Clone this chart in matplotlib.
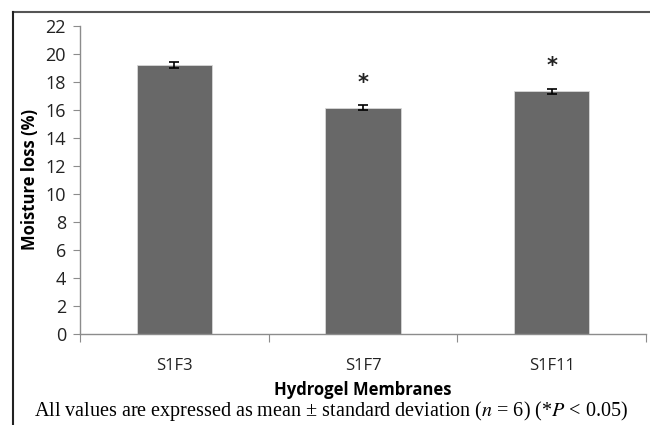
import matplotlib
matplotlib.use("Agg")
import matplotlib.pyplot as plt
from matplotlib.lines import Line2D

# Data
membranes = ["S1F3", "S1F7", "S1F11"]
moisture_loss = [19.22, 16.17, 17.35]
std_dev = [0.20, 0.18, 0.18]
significant = [False, True, True]
y_ticks = list(range(0, 23, 2))

bar_color = "#686868"
axis_color = "#8c8c8c"

plt.rcParams["mathtext.fontset"] = "stix"

fig = plt.figure(figsize=(6.5, 4.25), dpi=100)
ax = fig.add_axes([80 / 650, 1 - 334 / 425, 566 / 650, (334 - 26) / 425])

x = list(range(len(membranes)))
ax.bar(x, moisture_loss, width=0.4, color=bar_color, edgecolor="#d8d8d8",
       linewidth=0.6, zorder=2)
ax.errorbar(x, moisture_loss, yerr=std_dev, fmt="none", ecolor="black",
            elinewidth=1.2, capsize=3.5, capthick=1.2, zorder=3)

# asterisks for significant groups
for xi, val, sd, sig in zip(x, moisture_loss, std_dev, significant):
    if sig:
        ax.text(xi, val + sd + 1.6, "*", ha="center", va="center",
                fontsize=15, fontweight="bold", color="#222222")

ax.set_xlim(-0.5, len(membranes) - 0.5)
ax.set_ylim(0, 22)
ax.set_yticks(y_ticks)
ax.set_yticklabels([str(t) for t in y_ticks], family="Open Sans",
                   fontsize=13, color="#222222")
ax.tick_params(axis="y", direction="out", length=5, width=0.8,
               color=axis_color, pad=5)

# category tick labels without tick marks, boundary tick marks instead
ax.set_xticks(x)
ax.set_xticklabels(membranes, family="Open Sans", fontsize=12, color="#222222")
ax.tick_params(axis="x", length=0, pad=17)
ax.set_xticks([i - 0.5 for i in range(len(membranes) + 1)], minor=True)
ax.tick_params(axis="x", which="minor", direction="out", length=6,
               width=0.8, color=axis_color)

for side in ["top", "right"]:
    ax.spines[side].set_visible(False)
for side in ["left", "bottom"]:
    ax.spines[side].set_color(axis_color)
    ax.spines[side].set_linewidth(1.0)

ax.set_ylabel("Moisture loss (%)", family="Open Sans", fontweight="bold",
              fontsize=12, color="black", labelpad=5)
ax.set_xlabel("Hydrogel Membranes", family="Open Sans", fontweight="bold",
              fontsize=12, color="black", labelpad=5)

# caption under the chart
fig.text(0.51, 1 - 411 / 425,
         "All values are expressed as mean \u00b1 standard deviation "
         "($\\it{n}$ = 6) (*$\\it{P}$ < 0.05)",
         ha="center", va="center", family="Liberation Serif", fontsize=14.5)

# frame lines of the original figure box
fig.add_artist(Line2D([13 / 650, 1.0], [1 - 12 / 425, 1 - 12 / 425],
                      transform=fig.transFigure, color="#555555", linewidth=1.5))
fig.add_artist(Line2D([13 / 650, 13 / 650], [1 - 12 / 425, 0.0],
                      transform=fig.transFigure, color="#222222", linewidth=1.5))

fig.savefig("out.png", dpi=100)
